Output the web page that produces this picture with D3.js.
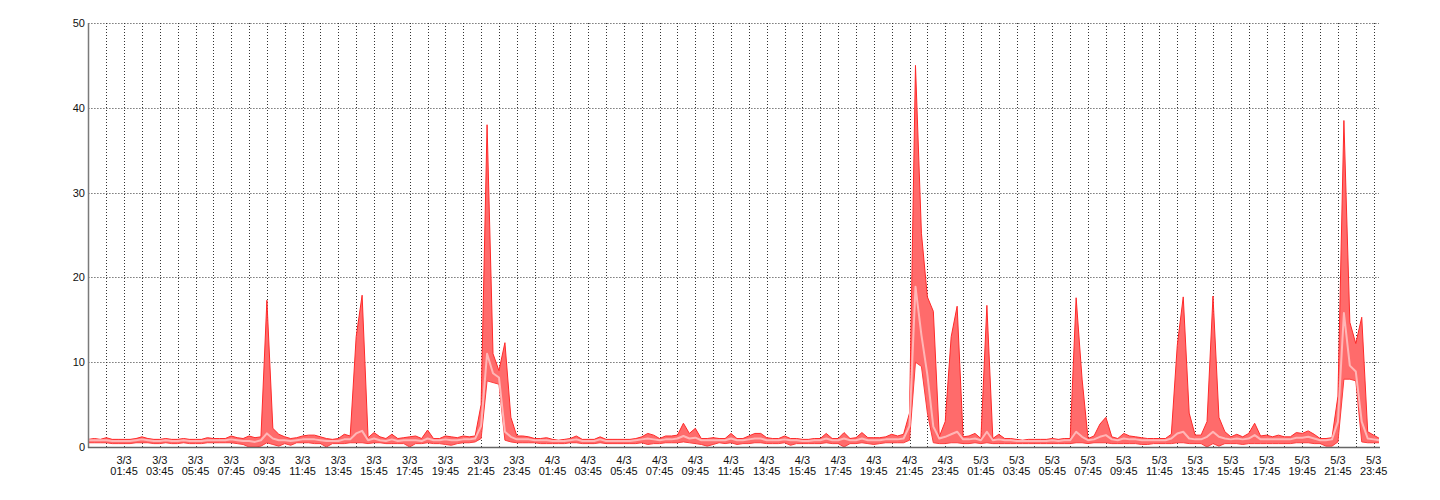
<!DOCTYPE html>
<html>
<head>
<meta charset="utf-8">
<script src="https://cdn.jsdelivr.net/npm/d3@7"></script>
<style>
  html, body { margin: 0; padding: 0; background: #fff; }
  svg { display: block; }
  text { font-family: "Liberation Sans", Arial, sans-serif; font-size: 11px; fill: #111; }
</style>
</head>
<body>
<svg id="chart" width="1440" height="500"></svg>
<script>
// ---- data: samples every 20 minutes, starting 2/3 23:45 ----
const startTime = new Date(2015, 2, 2, 23, 45);
const stepMinutes = 20;
const yTicks = [0, 10, 20, 30, 40, 50];

const maxValues = [
  0.9,1.0,0.9, 1.1,0.9,0.9, 0.9,0.9,1.0, 1.2,1.0,0.9, 0.9,1.0,0.9, 0.9,1.0,0.9,
  0.9,0.9,1.1, 1.0,1.0,1.0, 1.3,1.1,1.0, 1.3,1.1,1.2, 17.3,2.2,1.5, 1.2,1.0,1.1,
  1.3,1.4,1.4, 1.2,1.0,0.9, 1.0,1.5,1.3, 13.0,17.9,1.1, 1.7,1.2,1.0, 1.5,1.0,1.1,
  1.2,1.3,1.0, 2.0,1.0,1.0, 1.3,1.2,1.1, 1.3,1.2,1.3, 5.0,38.0,11.0, 9.0,12.3,3.5,
  1.3,1.3,1.2, 1.0,1.0,1.1, 0.9,0.8,0.9, 1.0,1.3,0.9, 0.9,0.9,1.2, 0.9,0.9,0.9,
  0.9,0.9,1.0, 1.2,1.6,1.4, 1.0,1.3,1.3, 1.4,2.8,1.6, 2.2,1.0,1.0, 1.1,1.0,1.0,
  1.6,1.0,1.0, 1.3,1.6,1.6, 1.1,1.0,1.0, 1.3,1.0,1.0, 0.9,0.9,1.0, 1.0,1.6,1.0,
  1.0,1.7,1.0, 1.1,1.7,1.1, 1.1,1.1,1.2, 1.5,1.3,1.5, 4.0,45.0,25.2, 17.7,16.0,1.2,
  3.0,13.0,16.6, 1.2,1.3,1.6, 1.0,16.7,1.0, 1.5,1.0,1.0, 0.9,0.8,0.9, 0.9,0.9,0.9,
  1.0,0.9,1.0, 1.0,17.6,8.0, 1.0,1.3,2.7, 3.5,1.2,1.0, 1.6,1.3,1.2, 1.1,1.0,1.0,
  1.0,1.0,1.5, 12.0,17.7,4.0, 1.4,1.4,3.0, 17.8,3.5,1.8, 1.2,1.5,1.2, 1.6,2.8,1.3,
  1.4,1.2,1.4, 1.2,1.2,1.7, 1.6,1.9,1.5, 1.0,1.0,1.1, 6.0,38.5,14.7, 12.2,15.3,1.8,
  1.4,1.0
];

const avgValues = [
  0.8,0.8,0.8, 0.8,0.7,0.7, 0.7,0.7,0.8, 0.9,0.8,0.7, 0.7,0.8,0.7, 0.7,0.8,0.7,
  0.7,0.7,0.8, 0.8,0.8,0.8, 0.9,0.8,0.7, 0.7,0.6,0.8, 1.6,1.0,0.8, 0.8,0.7,0.8,
  0.9,0.9,0.9, 0.8,0.7,0.7, 0.7,0.9,0.9, 1.6,1.9,0.8, 1.0,0.8,0.7, 0.9,0.7,0.8,
  0.8,0.8,0.7, 1.0,0.8,0.8, 0.9,0.8,0.8, 0.9,0.9,1.0, 2.5,11.0,8.7, 8.2,1.8,1.2,
  0.9,0.9,0.9, 0.8,0.8,0.8, 0.7,0.7,0.7, 0.8,0.9,0.7, 0.7,0.7,0.9, 0.7,0.7,0.7,
  0.7,0.7,0.8, 0.9,1.0,0.9, 0.8,0.9,0.9, 1.0,1.3,1.0, 1.1,0.8,0.8, 0.8,0.8,0.8,
  1.0,0.8,0.8, 0.9,1.0,1.0, 0.8,0.8,0.8, 0.9,0.8,0.8, 0.7,0.7,0.8, 0.8,1.0,0.8,
  0.8,1.0,0.8, 0.8,1.0,0.8, 0.8,0.8,0.9, 0.9,0.9,1.0, 2.5,18.9,13.2, 8.5,2.4,1.0,
  1.2,1.5,1.8, 0.9,0.9,1.0, 0.8,1.8,0.8, 0.9,0.8,0.8, 0.7,0.7,0.7, 0.7,0.7,0.7,
  0.8,0.7,0.8, 0.8,1.8,1.2, 0.8,0.9,1.2, 1.4,0.9,0.8, 1.0,0.9,0.9, 0.8,0.8,0.8,
  0.8,0.8,1.0, 1.6,1.8,1.0, 0.9,0.9,1.2, 1.8,1.2,1.0, 0.9,1.0,0.9, 1.0,1.4,0.9,
  0.9,0.9,0.9, 0.9,0.9,1.1, 1.1,1.2,1.0, 0.8,0.8,0.9, 3.0,15.8,9.6, 8.9,3.0,1.0,
  0.9,0.8
];

const minValues = [
  0.5,0.5,0.5, 0.5,0.4,0.4, 0.4,0.4,0.5, 0.5,0.5,0.4, 0.4,0.5,0.4, 0.4,0.5,0.4,
  0.4,0.4,0.5, 0.5,0.5,0.5, 0.5,0.4,0.3, 0.0,0.0,0.1, 0.5,0.3,0.1, 0.4,0.2,0.5,
  0.5,0.5,0.4, 0.4,0.0,0.4, 0.4,0.4,0.5, 0.5,0.5,0.4, 0.5,0.5,0.4, 0.4,0.4,0.4,
  0.0,0.4,0.4, 0.5,0.4,0.4, 0.3,0.2,0.4, 0.5,0.5,0.6, 1.0,7.8,7.6, 7.4,0.8,0.6,
  0.5,0.5,0.5, 0.5,0.4,0.4, 0.4,0.4,0.4, 0.5,0.5,0.4, 0.4,0.4,0.5, 0.4,0.4,0.4,
  0.4,0.4,0.4, 0.5,0.3,0.4, 0.4,0.5,0.5, 0.5,0.6,0.5, 0.4,0.3,0.1, 0.3,0.5,0.4,
  0.5,0.3,0.4, 0.4,0.5,0.5, 0.4,0.4,0.4, 0.5,0.2,0.4, 0.4,0.4,0.4, 0.4,0.5,0.4,
  0.4,0.0,0.4, 0.4,0.5,0.4, 0.3,0.4,0.5, 0.5,0.5,0.5, 0.8,10.0,9.5, 4.0,0.5,0.4,
  0.4,0.5,0.5, 0.4,0.4,0.5, 0.4,0.5,0.4, 0.4,0.4,0.4, 0.4,0.4,0.4, 0.4,0.4,0.4,
  0.4,0.4,0.4, 0.4,0.5,0.5, 0.4,0.5,0.5, 0.5,0.4,0.4, 0.4,0.4,0.4, 0.3,0.3,0.4,
  0.4,0.4,0.4, 0.5,0.5,0.4, 0.4,0.4,0.0, 0.4,0.1,0.4, 0.4,0.4,0.3, 0.4,0.4,0.4,
  0.4,0.4,0.4, 0.4,0.4,0.5, 0.5,0.5,0.4, 0.4,0.1,0.1, 0.6,8.0,8.0, 7.8,0.6,0.5,
  0.5,0.5
];

// ---- layout ----
const plot = { left: 88.4, right: 1379, top: 23, bottom: 447 };
const endTime = new Date(2015, 2, 6, 0, 3);

const svg = d3.select("#chart");

const x = d3.scaleTime().domain([startTime, endTime]).range([plot.left, plot.right]);
const y = d3.scaleLinear().domain([0, 50]).range([plot.bottom, plot.top]);

const data = maxValues.map((v, i) => ({
  t: new Date(+startTime + i * stepMinutes * 60000),
  max: v, avg: avgValues[i], min: minValues[i]
}));

// hourly grid ticks (xx:45) and labels on every second one
const hourTicks = d3.range(1, 73).map(h => new Date(+startTime + h * 3600000));
const labelTicks = hourTicks.filter((d, i) => i % 2 === 1);
const fmtDay = d3.timeFormat("%-d/%-m");
const fmtTime = d3.timeFormat("%H:%M");

// grid
const grid = svg.append("g");
grid.selectAll("line.v").data(hourTicks).join("line")
  .attr("x1", d => Math.round(x(d)) + 0.5).attr("x2", d => Math.round(x(d)) + 0.5)
  .attr("y1", plot.top).attr("y2", plot.bottom)
  .attr("stroke", "#333").attr("stroke-width", 1).attr("stroke-dasharray", "1,2");
grid.selectAll("line.h").data(yTicks.filter(v => v > 0)).join("line")
  .attr("x1", plot.left).attr("x2", plot.right)
  .attr("y1", d => Math.round(y(d)) + 0.5).attr("y2", d => Math.round(y(d)) + 0.5)
  .attr("stroke", "#333").attr("stroke-width", 1).attr("stroke-dasharray", "1,2");

// series
svg.append("defs").append("clipPath").attr("id", "clip")
  .append("rect").attr("x", plot.left).attr("y", plot.top - 2)
  .attr("width", plot.right - plot.left).attr("height", plot.bottom - plot.top + 2);

const g = svg.append("g").attr("clip-path", "url(#clip)");

const band = d3.area().x(d => x(d.t)).y0(d => y(d.min)).y1(d => y(d.max));
const lineMax = d3.line().x(d => x(d.t)).y(d => y(d.max));
const lineMin = d3.line().x(d => x(d.t)).y(d => y(d.min));
const lineAvg = d3.line().x(d => x(d.t)).y(d => y(d.avg));

g.append("path").datum(data).attr("d", band).attr("fill", "#ff6b6b");
g.append("path").datum(data).attr("d", lineMax).attr("fill", "none")
  .attr("stroke", "#ff2a2a").attr("stroke-width", 1).attr("stroke-linejoin", "round");
g.append("path").datum(data).attr("d", lineMin).attr("fill", "none")
  .attr("stroke", "#ff3c3c").attr("stroke-width", 1).attr("stroke-linejoin", "round");
g.append("path").datum(data).attr("d", lineAvg).attr("fill", "none")
  .attr("stroke", "#ffb6b6").attr("stroke-width", 2).attr("stroke-linejoin", "round");

// axes lines
svg.append("line").attr("x1", 88.5).attr("x2", 88.5).attr("y1", plot.top).attr("y2", plot.bottom + 1)
  .attr("stroke", "#7a7a7a").attr("stroke-width", 1.5);
svg.append("line").attr("x1", 88).attr("x2", plot.right + 1).attr("y1", 447.5).attr("y2", 447.5)
  .attr("stroke", "#666").attr("stroke-width", 1.5);

// y labels
svg.append("g").selectAll("text").data(yTicks).join("text")
  .attr("x", 85).attr("y", d => y(d) + 4)
  .attr("text-anchor", "end").text(d => d);

// x labels
const xl = svg.append("g").selectAll("text").data(labelTicks).join("text")
  .attr("text-anchor", "middle");
xl.append("tspan").attr("x", d => x(d)).attr("y", 464).text(d => fmtDay(d));
xl.append("tspan").attr("x", d => x(d)).attr("y", 475).text(d => fmtTime(d));
</script>
</body>
</html>
